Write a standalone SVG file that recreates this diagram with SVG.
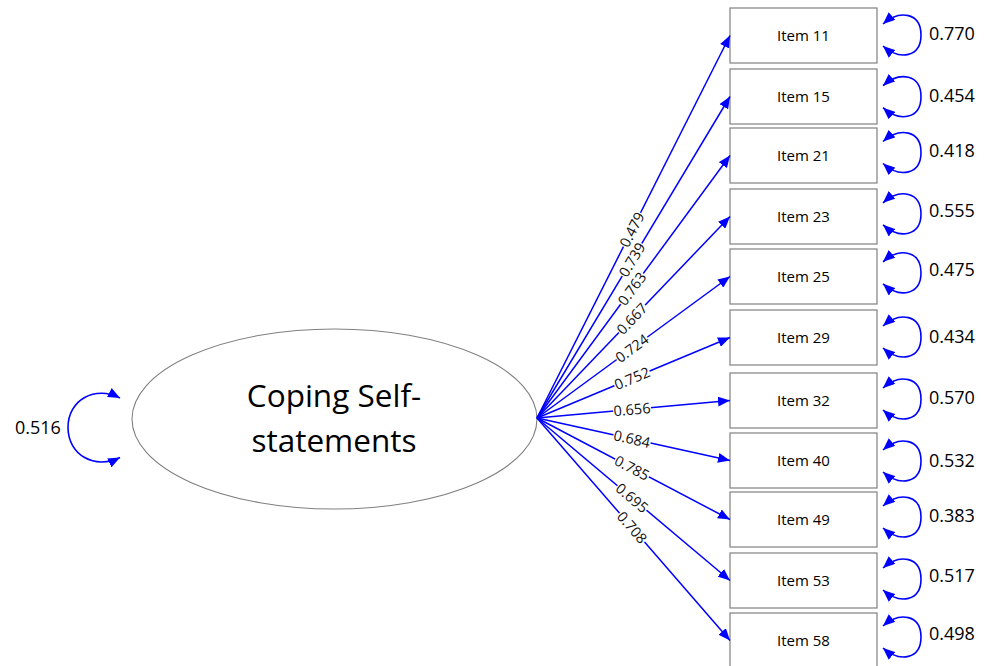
<svg xmlns="http://www.w3.org/2000/svg" width="992" height="666" viewBox="0 0 992 666">
  <style>
    .box { fill: #ffffff; stroke: #808080; stroke-width: 1.2; }
    .latent { fill: #ffffff; stroke: #808080; stroke-width: 1.1; }
    .item { font-family: "Open Sans", "Liberation Sans", sans-serif; font-size: 15px; fill: #000; text-anchor: middle; }
    .big { font-family: "Open Sans", "Liberation Sans", sans-serif; font-size: 31.5px; fill: #000; text-anchor: middle; }
    .var { font-family: "Open Sans", "Liberation Sans", sans-serif; font-size: 18px; fill: #000; }
    .edge { stroke: #0000ff; stroke-width: 1.5; fill: none; marker-end: url(#arrow); }
    .loop { stroke: #0000ff; stroke-width: 1.6; fill: none; marker-start: url(#arrow); marker-end: url(#arrow); }
    .lbl rect { fill: #ffffff; }
    .lbl text { font-family: "Open Sans", "Liberation Sans", sans-serif; font-size: 14.5px; fill: #111; text-anchor: middle; }
  </style>
  <defs>
    <marker id="arrow" viewBox="0 0 12 10" refX="12" refY="5" markerWidth="12" markerHeight="10" markerUnits="userSpaceOnUse" orient="auto-start-reverse">
      <path d="M0,0 L12,5 L0,10 Z" fill="#0000ff"/>
    </marker>
  </defs>

  <!-- latent factor -->
  <g id="latent">
    <ellipse class="latent" cx="334.5" cy="419" rx="202.5" ry="90"/>
    <text class="big" x="334" y="407">Coping Self-</text>
    <text class="big" x="334" y="452">statements</text>
  </g>

  <!-- indicator boxes -->
  <g id="item11"><rect class="box" x="730" y="8" width="147" height="55"/><text class="item" x="803.5" y="41">Item 11</text></g>
  <g id="item15"><rect class="box" x="730" y="69" width="147" height="55"/><text class="item" x="803.5" y="102">Item 15</text></g>
  <g id="item21"><rect class="box" x="730" y="128" width="147" height="55"/><text class="item" x="803.5" y="161">Item 21</text></g>
  <g id="item23"><rect class="box" x="730" y="189" width="147" height="55"/><text class="item" x="803.5" y="222">Item 23</text></g>
  <g id="item25"><rect class="box" x="730" y="249" width="147" height="55"/><text class="item" x="803.5" y="282">Item 25</text></g>
  <g id="item29"><rect class="box" x="730" y="310" width="147" height="55"/><text class="item" x="803.5" y="343">Item 29</text></g>
  <g id="item32"><rect class="box" x="730" y="373" width="147" height="55"/><text class="item" x="803.5" y="406">Item 32</text></g>
  <g id="item40"><rect class="box" x="730" y="433" width="147" height="55"/><text class="item" x="803.5" y="466">Item 40</text></g>
  <g id="item49"><rect class="box" x="730" y="492" width="147" height="55"/><text class="item" x="803.5" y="525">Item 49</text></g>
  <g id="item53"><rect class="box" x="730" y="553" width="147" height="55"/><text class="item" x="803.5" y="586">Item 53</text></g>
  <g id="item58"><rect class="box" x="730" y="613" width="147" height="55"/><text class="item" x="803.5" y="646">Item 58</text></g>

  <!-- loadings and variances -->
  <g id="connectors">
    <line class="edge" x1="537" y1="418" x2="730" y2="35.5"/>
    <line class="edge" x1="537" y1="418" x2="730" y2="96.5"/>
    <line class="edge" x1="537" y1="418" x2="730" y2="155.5"/>
    <line class="edge" x1="537" y1="418" x2="730" y2="216.5"/>
    <line class="edge" x1="537" y1="418" x2="730" y2="276.5"/>
    <line class="edge" x1="537" y1="418" x2="730" y2="337.5"/>
    <line class="edge" x1="537" y1="418" x2="730" y2="400.5"/>
    <line class="edge" x1="537" y1="418" x2="730" y2="460.5"/>
    <line class="edge" x1="537" y1="418" x2="730" y2="519.5"/>
    <line class="edge" x1="537" y1="418" x2="730" y2="580.5"/>
    <line class="edge" x1="537" y1="418" x2="730" y2="640.5"/>

    <!-- latent variance loop -->
    <path class="loop" d="M120,457.5 C95,470 68,455 68,427.5 C68,400 95,385 120,398"/>

    <!-- residual variance loops -->
    <path class="loop" transform="translate(0,35)" d="M883,11 C900,26 921,22 921,0 C921,-22 900,-26 883,-11"/>
    <path class="loop" transform="translate(0,96.7)" d="M883,11 C900,26 921,22 921,0 C921,-22 900,-26 883,-11"/>
    <path class="loop" transform="translate(0,152.5)" d="M883,11 C900,26 921,22 921,0 C921,-22 900,-26 883,-11"/>
    <path class="loop" transform="translate(0,213.8)" d="M883,11 C900,26 921,22 921,0 C921,-22 900,-26 883,-11"/>
    <path class="loop" transform="translate(0,272.8)" d="M883,11 C900,26 921,22 921,0 C921,-22 900,-26 883,-11"/>
    <path class="loop" transform="translate(0,337)" d="M883,11 C900,26 921,22 921,0 C921,-22 900,-26 883,-11"/>
    <path class="loop" transform="translate(0,399)" d="M883,11 C900,26 921,22 921,0 C921,-22 900,-26 883,-11"/>
    <path class="loop" transform="translate(0,461)" d="M883,11 C900,26 921,22 921,0 C921,-22 900,-26 883,-11"/>
    <path class="loop" transform="translate(0,517)" d="M883,11 C900,26 921,22 921,0 C921,-22 900,-26 883,-11"/>
    <path class="loop" transform="translate(0,579)" d="M883,11 C900,26 921,22 921,0 C921,-22 900,-26 883,-11"/>
    <path class="loop" transform="translate(0,637)" d="M883,11 C900,26 921,22 921,0 C921,-22 900,-26 883,-11"/>

    <!-- loading labels -->
    <g class="lbl" transform="translate(632,229.7) rotate(-63.23)"><rect x="-19" y="-6" width="38" height="12"/><text y="5.2">0.479</text></g>
    <g class="lbl" transform="translate(632,259.7) rotate(-59.02)"><rect x="-19" y="-6" width="38" height="12"/><text y="5.2">0.739</text></g>
    <g class="lbl" transform="translate(632,288.8) rotate(-53.67)"><rect x="-19" y="-6" width="38" height="12"/><text y="5.2">0.763</text></g>
    <g class="lbl" transform="translate(632,318.8) rotate(-46.24)"><rect x="-19" y="-6" width="38" height="12"/><text y="5.2">0.667</text></g>
    <g class="lbl" transform="translate(632,348.4) rotate(-36.25)"><rect x="-19" y="-6" width="38" height="12"/><text y="5.2">0.724</text></g>
    <g class="lbl" transform="translate(632,378.4) rotate(-22.64)"><rect x="-19" y="-6" width="38" height="12"/><text y="5.2">0.752</text></g>
    <g class="lbl" transform="translate(632,409.4) rotate(-5.18)"><rect x="-19" y="-6" width="38" height="12"/><text y="5.2">0.656</text></g>
    <g class="lbl" transform="translate(632,438.9) rotate(12.42)"><rect x="-19" y="-6" width="38" height="12"/><text y="5.2">0.684</text></g>
    <g class="lbl" transform="translate(632,468) rotate(27.74)"><rect x="-19" y="-6" width="38" height="12"/><text y="5.2">0.785</text></g>
    <g class="lbl" transform="translate(632,498) rotate(40.1)"><rect x="-19" y="-6" width="38" height="12"/><text y="5.2">0.695</text></g>
    <g class="lbl" transform="translate(632,527.5) rotate(49.06)"><rect x="-19" y="-6" width="38" height="12"/><text y="5.2">0.708</text></g>
  </g>

  <!-- variance values -->
  <g id="variances">
    <text class="var" x="15" y="433.5">0.516</text>
    <text class="var" x="929" y="40">0.770</text>
    <text class="var" x="929" y="101.7">0.454</text>
    <text class="var" x="929" y="157.3">0.418</text>
    <text class="var" x="929" y="217.3">0.555</text>
    <text class="var" x="929" y="276">0.475</text>
    <text class="var" x="929" y="342.7">0.434</text>
    <text class="var" x="929" y="404">0.570</text>
    <text class="var" x="929" y="467.3">0.532</text>
    <text class="var" x="929" y="521.7">0.383</text>
    <text class="var" x="929" y="581.5">0.517</text>
    <text class="var" x="929" y="640">0.498</text>
  </g>
</svg>
